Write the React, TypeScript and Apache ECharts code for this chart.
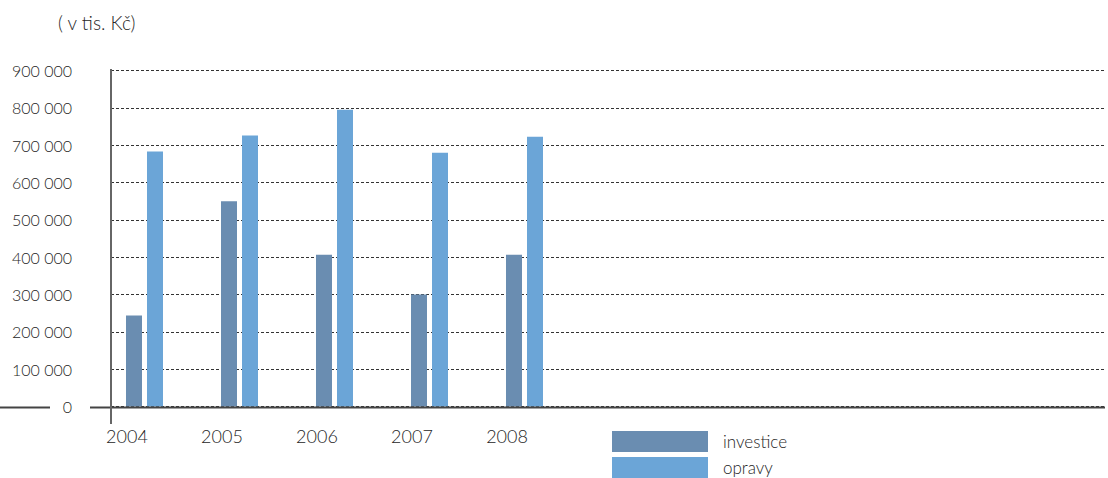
import React, { useEffect, useRef } from "react";
import * as echarts from "echarts";

const years = [2004, 2005, 2006, 2007, 2008];
const investice = [244000, 550000, 407000, 300000, 407000];
const opravy = [683000, 726000, 795000, 680000, 723000];
const seriesNames = ["investice", "opravy"];
const unitLabel = "( v tis. Kč)";

const FONT = "Lato, 'Open Sans', sans-serif";
const TEXT = "#262626";
const W = 300;

export default function App() {
  const ref = useRef<HTMLDivElement>(null);
  useEffect(() => {
    document.body.style.margin = "0";
    if (!ref.current) return;
    const chart = echarts.init(ref.current, undefined, { renderer: "svg" });
    const gridLeft = 111;
    const gridTop = 70.6;
    const gridHeight = 336;
    const bottomY = gridTop + gridHeight;
    chart.setOption({
      animation: false,
      textStyle: { fontFamily: FONT, color: TEXT, fontWeight: W },
      grid: { left: gridLeft, right: 3, top: gridTop, height: gridHeight, containLabel: false },
      xAxis: [
        {
          type: "value",
          min: 2003.6474,
          max: 2014.1105,
          show: true,
          axisLine: { show: false },
          axisTick: { show: false },
          axisLabel: { show: false },
          splitLine: { show: false },
        },
        {
          type: "value",
          min: 2003.8316,
          max: 2014.2947,
          position: "bottom",
          axisLine: { show: false },
          axisTick: { show: false },
          splitLine: { show: false },
          axisLabel: {
            show: true,
            customValues: years,
            formatter: (v: number) => String(Math.round(v)),
            fontSize: 18,
            fontFamily: FONT,
            fontWeight: W,
            color: TEXT,
            margin: 20,
          },
        },
      ],
      yAxis: {
        type: "value",
        min: 0,
        max: 900000,
        interval: 100000,
        axisLine: { show: false },
        axisTick: { show: false },
        axisLabel: {
          margin: 39,
          fontSize: 16,
          fontFamily: FONT,
          fontWeight: W,
          color: TEXT,
          padding: [6, 0, 0, 0],
          formatter: (v: number) =>
            String(v).replace(/\B(?=(\d{3})+(?!\d))/g, " "),
        },
        splitLine: {
          show: true,
          lineStyle: { color: "#333", width: 1, type: [3, 2] },
        },
      },
      legend: {
        orient: "vertical",
        left: 612,
        top: 431,
        padding: 0,
        itemWidth: 96,
        itemHeight: 21,
        itemGap: 5,
        icon: "rect",
        data: seriesNames,
        textStyle: { fontSize: 17, fontFamily: FONT, fontWeight: W, color: TEXT, padding: [0, 0, 0, 10], lineHeight: 21 },
      },
      graphic: [
        {
          type: "text",
          left: 58,
          top: 13,
          style: { text: unitLabel, fontSize: 19, fontFamily: FONT, fontWeight: W, fill: TEXT },
        },
        {
          type: "line",
          shape: { x1: 90, y1: bottomY + 1, x2: 1105, y2: bottomY + 1 },
          style: { stroke: "#444", lineWidth: 2 },
          z: 10,
        },
        {
          type: "line",
          shape: { x1: 0, y1: bottomY + 1, x2: 50, y2: bottomY + 1 },
          style: { stroke: "#444", lineWidth: 2 },
          z: 10,
        },
        {
          type: "line",
          shape: { x1: gridLeft, y1: gridTop - 1.5, x2: gridLeft, y2: 424 },
          style: { stroke: "#666", lineWidth: 2 },
          z: 10,
        },
      ],
      series: [
        {
          name: seriesNames[0],
          type: "bar",
          xAxisIndex: 0,
          barWidth: 16,
          barGap: "31.25%",
          itemStyle: { color: "#6a8db1" },
          data: years.map((y, i) => [y, investice[i]]),
        },
        {
          name: seriesNames[1],
          type: "bar",
          xAxisIndex: 0,
          barWidth: 16,
          barGap: "31.25%",
          itemStyle: { color: "#6ba5d7" },
          data: years.map((y, i) => [y, opravy[i]]),
        },
      ],
    });
    return () => chart.dispose();
  }, []);
  return <div ref={ref} style={{ width: 1108, height: 478 }} />;
}
